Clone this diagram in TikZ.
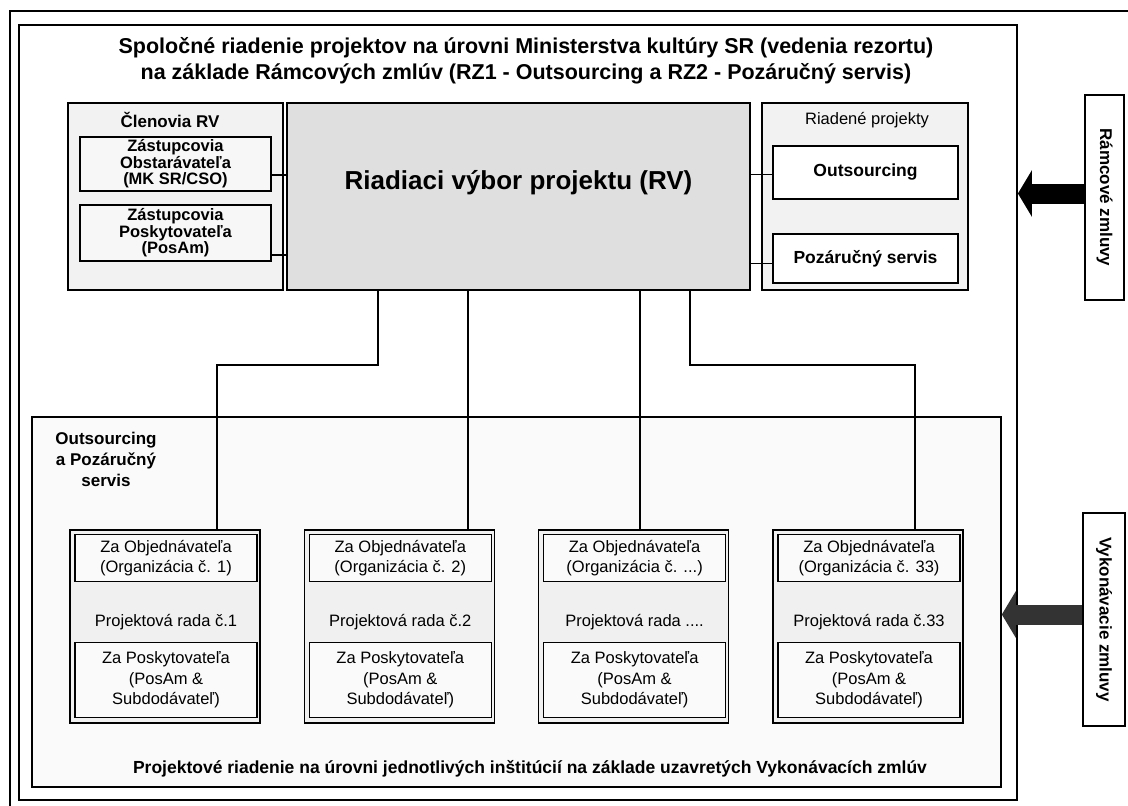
\documentclass[tikz,border=0pt]{standalone}
\usepackage{fontspec}
\setmainfont{Liberation Sans}
\usepackage{tikz}
\usetikzlibrary{arrows.meta, positioning}

\begin{document}
\begin{tikzpicture}[x=1pt, y=-1pt,
    panel/.style={rectangle, draw, line width=1.6pt, inner sep=0pt, fill=gray!10},
    member/.style={rectangle, draw, line width=1.6pt, inner sep=0pt, fill=gray!6, minimum width=191pt,
        align=center, font=\bfseries\fontsize{16.5}{16.5}\selectfont},
    project/.style={rectangle, draw, line width=1.6pt, inner sep=0pt, fill=white, minimum width=185pt,
        align=center, font=\bfseries\fontsize{17.5}{19}\selectfont},
    group/.style={rectangle, draw, line width=1.6pt, inner sep=0pt, fill=gray!12, minimum width=190pt, minimum height=193pt},
    party/.style={rectangle, draw, line width=1.4pt, inner sep=0pt, fill=gray!4, minimum width=182pt,
        align=center, font=\fontsize{16.5}{20.5}\selectfont},
    label/.style={align=center, font=\fontsize{16.5}{20}\selectfont},
    contract/.style={rectangle, draw, line width=1.6pt, inner sep=0pt, fill=white},
    link/.style={line width=1.3pt},
    bigarrow/.style={line width=20pt, -{Triangle[width=46pt, length=14pt]}}
]
    \clip (0,0) rectangle (1128,806);
    \fill[white] (0,0) rectangle (1128,806);

    % Outer frames
    \draw[line width=1.8pt] (10,11) rectangle (1150,830);
    \node[rectangle, draw, line width=1.8pt, minimum width=998pt, minimum height=775pt] (frame) at (518,412.5) {};
    \node[font=\bfseries\fontsize{21.5}{26}\selectfont, align=center] (title) at (526,61) {
        Spoločné riadenie projektov na úrovni Ministerstva kultúry SR (vedenia rezortu)\\
        na základe Rámcových zmlúv (RZ1 - Outsourcing a RZ2 - Pozáručný servis)};

    % Steering committee
    \node[panel, minimum width=215pt, minimum height=187pt] (members) at (175.5,196.5) {};
    \node[font=\bfseries\fontsize{17}{18}\selectfont] (memberstitle) at (170,120) {Členovia RV};
    \node[member, minimum height=54pt] (obst) at (175.5,164) {Zástupcovia\\Obstarávateľa\\(MK SR/CSO)};
    \node[member, minimum height=56pt] (posk) at (175.5,233) {Zástupcovia\\Poskytovateľa\\(PosAm)};

    \node[panel, fill=gray!25, minimum width=463pt, minimum height=187pt] (rv) at (518.5,196.5) {};
    \node[font=\bfseries\fontsize{26}{28}\selectfont] (rvtext) at ([yshift=14pt]rv.center) {Riadiaci výbor projektu (RV)};

    \node[panel, minimum width=206pt, minimum height=187pt] (projects) at (865,196.5) {};
    \node[font=\fontsize{16.5}{18}\selectfont] (projectstitle) at (867,120) {Riadené projekty};
    \node[project, minimum height=53pt] (outs) at (865.5,172.5) {Outsourcing};
    \node[project, minimum height=49pt] (poz) at (865.5,258.5) {Pozáručný servis};

    \draw[link] ([yshift=-11pt]obst.east) -- ([yshift=-11pt]obst.east -| rv.west);
    \draw[link] ([yshift=-22pt]posk.east) -- ([yshift=-22pt]posk.east -| rv.west);
    \draw[link] ([yshift=-2pt]outs.west) -- ([yshift=-2pt]outs.west -| rv.east);
    \draw[link] ([yshift=-5pt]poz.west) -- ([yshift=-5pt]poz.west -| rv.east);

    % Implementation level
    \node[panel, fill=gray!4, minimum width=969pt, minimum height=370pt] (lower) at (516.5,602) {};
    \node[label, font=\bfseries\fontsize{17}{21}\selectfont] (lowertitle) at (106,459) {Outsourcing\\a Pozáručný\\servis};
    \node[label, font=\bfseries\fontsize{17.5}{20}\selectfont] (lowerfoot) at (530,769) {Projektové riadenie na úrovni jednotlivých inštitúcií na základe uzavretých Vykonávacích zmlúv};

    \node[group] (g1) at (165,626.5) {};
    \node[party, minimum height=47pt] (obj1) at (166,558) {Za Objednávateľa\\(Organizácia č. 1)};
    \node[label] (rada1) at (166,622) {Projektová rada č.1};
    \node[party, minimum height=75pt] (pos1) at (166,680) {Za Poskytovateľa\\(PosAm \&\\Subdodávateľ)};

    \node[group] (g2) at (399.3,626.5) {};
    \node[party, minimum height=47pt] (obj2) at (400.3,558) {Za Objednávateľa\\(Organizácia č. 2)};
    \node[label] (rada2) at (400.3,622) {Projektová rada č.2};
    \node[party, minimum height=75pt] (pos2) at (400.3,680) {Za Poskytovateľa\\(PosAm \&\\Subdodávateľ)};

    \node[group] (g3) at (633.6,626.5) {};
    \node[party, minimum height=47pt] (obj3) at (634.6,558) {Za Objednávateľa\\(Organizácia č. ...)};
    \node[label] (rada3) at (634.6,622) {Projektová rada ....};
    \node[party, minimum height=75pt] (pos3) at (634.6,680) {Za Poskytovateľa\\(PosAm \&\\Subdodávateľ)};

    \node[group] (g4) at (868,626.5) {};
    \node[party, minimum height=47pt] (obj4) at (869,558) {Za Objednávateľa\\(Organizácia č. 33)};
    \node[label] (rada4) at (869,622) {Projektová rada č.33};
    \node[party, minimum height=75pt] (pos4) at (869,680) {Za Poskytovateľa\\(PosAm \&\\Subdodávateľ)};

    % Committee to project boards
    \coordinate (j1) at (378,365);
    \coordinate (b1) at (217,365);
    \coordinate (c2) at (468,365);
    \coordinate (c3) at (640,365);
    \coordinate (j4) at (690,365);
    \coordinate (b4) at (915,365);
    \draw[link] (j1 |- rv.south) -- (j1) -- (b1) -- (b1 |- g1.north);
    \draw[link] (c2 |- rv.south) -- (c2 |- g2.north);
    \draw[link] (c3 |- rv.south) -- (c3 |- g3.north);
    \draw[link] (j4 |- rv.south) -- (j4) -- (b4) -- (b4 |- g4.north);

    % Contracts
    \node[contract, minimum width=39pt, minimum height=205pt] (ramc) at (1104.5,197.5) {};
    \node[rotate=-90, font=\bfseries\fontsize{17}{18}\selectfont] (ramctext) at (ramc.center) {Rámcové zmluvy};
    \node[contract, minimum width=42pt, minimum height=213pt] (vyk) at (1104,619.5) {};
    \node[rotate=-90, font=\bfseries\fontsize{17}{18}\selectfont] (vyktext) at (vyk.center) {Vykonávacie zmluvy};

    \coordinate (a1) at ([yshift=4pt]ramc.west);
    \coordinate (a2) at ([yshift=5pt]vyk.west);
    \draw[bigarrow, black] (a1) -- (a1 -| frame.east);
    \draw[bigarrow, black!80] (a2) -- (a2 -| lower.east);
\end{tikzpicture}
\end{document}
